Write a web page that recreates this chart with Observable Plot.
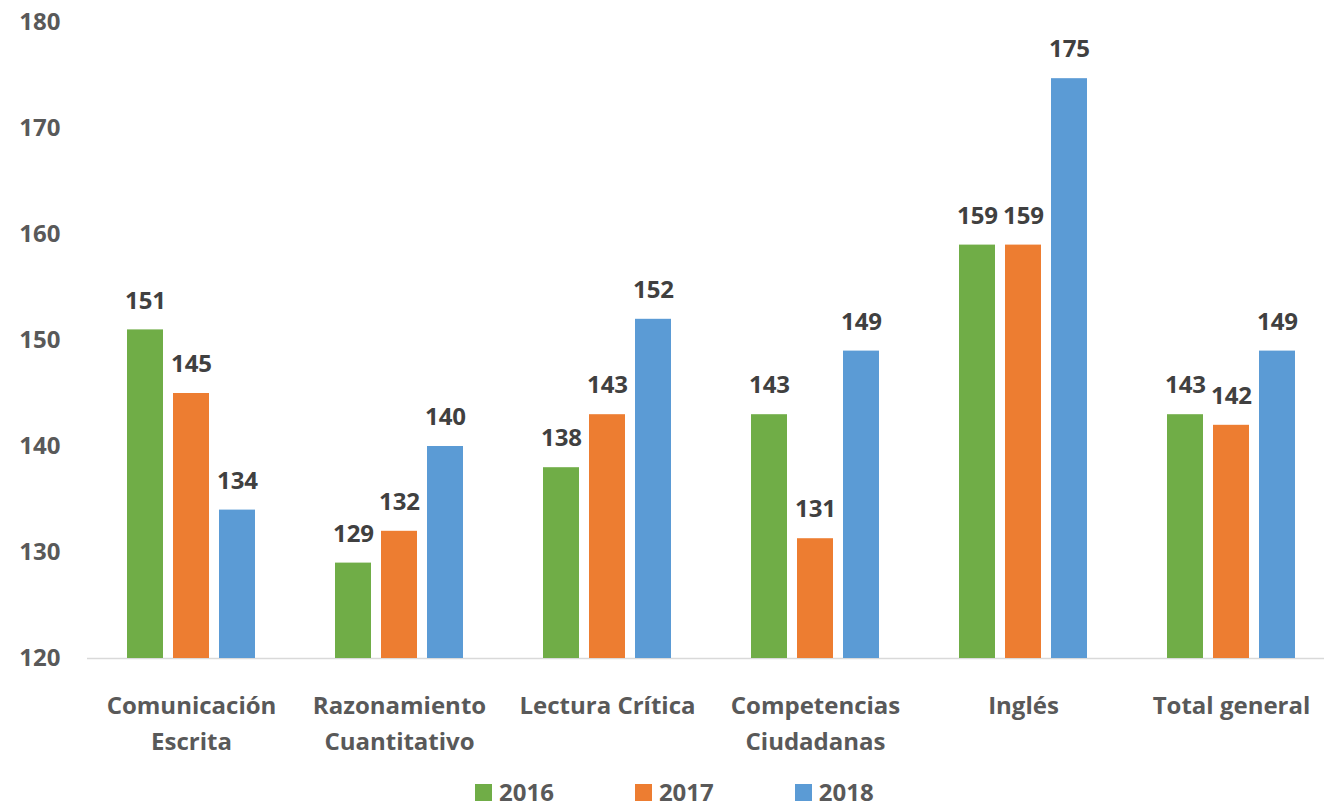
<!DOCTYPE html>
<html><head><meta charset="utf-8">
<script src="https://cdn.jsdelivr.net/npm/d3@7"></script>
<script src="https://cdn.jsdelivr.net/npm/@observablehq/plot@0.6"></script>
<style>
body{margin:0;background:#fff;font-family:"Open Sans",sans-serif;overflow:hidden;}
#chart svg{display:block;}
#legend{display:flex;align-items:center;height:24px;line-height:24px;margin-top:8px;padding-left:475px;font-weight:bold;font-size:24px;color:#595959;}
.item{display:flex;align-items:center;margin-right:81px;}
.sw{width:17px;height:17px;margin-right:7px;}
</style></head><body>
<div id="chart"></div>
<div id="legend"></div>
<script>
const categories = ["Comunicación Escrita","Razonamiento Cuantitativo","Lectura Crítica","Competencias Ciudadanas","Inglés","Total general"];
const tickLabels = ["Comunicación\nEscrita","Razonamiento\nCuantitativo","Lectura Crítica","Competencias\nCiudadanas","Inglés","Total general"];
const years = ["2016","2017","2018"];
const colors = ["#70AD47","#ED7D31","#5B9BD5"];
const v2016 = [151,129,138,143,159,143];
const v2017 = [145,132,143,131.3,159,142];
const v2018 = [134,140,152,149,174.7,149];
const yTicks = [120,130,140,150,160,170,180];

const series = [v2016, v2017, v2018];
const data = [];
categories.forEach((c,i)=>years.forEach((y,j)=>data.push({cat:c, year:y, value:series[j][i]})));
const fmt = d3.format(".0f");

const chart = Plot.plot({
  width:1324, height:772,
  marginLeft:85, marginRight:-13, marginTop:22, marginBottom:114,
  style:{fontFamily:"'Open Sans', sans-serif", background:"white"},
  fx:{domain:categories, padding:0},
  x:{domain:years, axis:null, paddingInner:0.217, paddingOuter:0.84},
  y:{domain:[120,180], axis:null},
  color:{domain:years, range:colors},
  marks:[
    Plot.ruleY([120],{stroke:"#d9d9d9", strokeWidth:1.5}),
    Plot.barY(data,{fx:"cat", x:"year", y1:120, y2:"value", fill:"year"}),
    Plot.text(data,{fx:"cat", x:"year", y:"value", text:d=>fmt(d.value), dy:-29, fontSize:24, fontWeight:"bold", fill:"#404040"}),
    Plot.axisY({ticks:yTicks, tickSize:0, tickPadding:27, fontSize:24, fontWeight:"bold", color:"#595959", label:null}),
    Plot.axisFx({anchor:"bottom", tickSize:0, tickPadding:30, tickFormat:d=>tickLabels[categories.indexOf(d)], fontSize:24, fontWeight:"bold", color:"#595959", lineHeight:1.5, label:null})
  ]
});
document.getElementById("chart").append(chart);

const legend = document.getElementById("legend");
years.forEach((y,i)=>{
  const it = document.createElement("div"); it.className="item";
  const sw = document.createElement("div"); sw.className="sw"; sw.style.background=colors[i];
  const t = document.createElement("span"); t.textContent=y;
  it.append(sw,t); legend.append(it);
});
</script>
</body></html>
